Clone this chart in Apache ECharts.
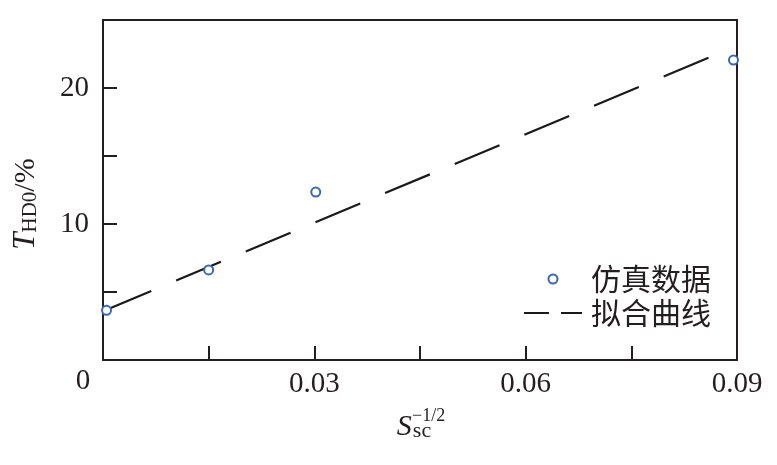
<!DOCTYPE html>
<html>
<head>
<meta charset="utf-8">
<script src="https://cdn.jsdelivr.net/npm/echarts@6/dist/echarts.min.js"></script>
<style>
html,body{margin:0;padding:0;background:#fff;}
#chart{width:777px;height:465px;}
</style>
</head>
<body>
<div id="chart"></div>
<script>
// Data
const simX = [0.0005, 0.015, 0.0302, 0.0895];
const simY = [3.65, 6.62, 12.35, 22.05];
const fitX = [0.0005, 0.0865];
const fitY = [3.70, 22.34];
const xTickLabels = ['0', '0.03', '0.06', '0.09'];
const yTickLabels = ['10', '20'];
const seriesNames = ['仿真数据', '拟合曲线'];

const serif = '"Liberation Serif", "Times New Roman", serif';
const cjk = '"Noto Sans CJK SC", sans-serif';
const axisColor = '#231f20';
const blue = '#3a68b2';

const chart = echarts.init(document.getElementById('chart'), null, {renderer: 'canvas'});

function fmtX(v) {
  const s = String(Math.round(v * 1000) / 1000);
  if (s === '0') return '{o|0}';
  return xTickLabels.indexOf(s) >= 0 ? s : '';
}
function fmtY(v) {
  const s = String(Math.round(v));
  return yTickLabels.indexOf(s) >= 0 ? s : '';
}

const option = {
  animation: false,
  backgroundColor: '#fff',
  grid: {left: 103, right: 40, top: 20, bottom: 105, containLabel: false},
  xAxis: [{
    type: 'value', position: 'bottom', min: 0, max: 0.09, interval: 0.015,
    axisLine: {show: true, onZero: false, lineStyle: {color: axisColor, width: 2}},
    axisTick: {show: true, inside: true, length: 14, lineStyle: {color: axisColor, width: 2}},
    splitLine: {show: false},
    axisLabel: {
      show: true, margin: 10, color: '#231f20', fontFamily: serif, fontSize: 29,
      formatter: fmtX,
      rich: {o: {fontFamily: serif, fontSize: 29, color: '#231f20', lineHeight: 22, padding: [0, 40, 0, 0]}}
    },
    name: '{s|S}{sub|sc}',
    nameLocation: 'middle', nameGap: 47,
    nameTextStyle: {
      padding: [0, 12, 0, 0],
      rich: {
        s: {fontFamily: serif, fontStyle: 'italic', fontSize: 30, lineHeight: 30, verticalAlign: 'top', color: '#231f20'},
        sub: {fontFamily: serif, fontSize: 22, lineHeight: 22, padding: [16, 0, 0, 1], verticalAlign: 'bottom', color: '#231f20'}
      }
    }
  }, {
    type: 'value', position: 'top', min: 0, max: 0.09,
    axisLine: {show: true, onZero: false, lineStyle: {color: axisColor, width: 2}},
    axisTick: {show: false}, axisLabel: {show: false}, splitLine: {show: false}
  }],
  yAxis: [{
    type: 'value', position: 'left', min: 0, max: 25, interval: 5,
    axisLine: {show: true, onZero: false, lineStyle: {color: axisColor, width: 2}},
    axisTick: {show: true, inside: true, length: 14, lineStyle: {color: axisColor, width: 2}},
    splitLine: {show: false},
    axisLabel: {show: true, margin: 14, color: '#231f20', fontFamily: serif, fontSize: 29, formatter: fmtY},
    name: '{ti|T}{sub|HD0}{t|/%}',
    nameLocation: 'middle', nameGap: 62, nameRotate: 90,
    nameTextStyle: {
      padding: [0, 28, 0, 0],
      rich: {
        ti: {fontFamily: serif, fontStyle: 'italic', fontSize: 31, lineHeight: 30, verticalAlign: 'bottom', color: '#231f20'},
        t: {fontFamily: serif, fontSize: 30, lineHeight: 30, verticalAlign: 'bottom', color: '#231f20'},
        sub: {fontFamily: serif, fontSize: 21, lineHeight: 21, verticalAlign: 'bottom', color: '#231f20'}
      }
    }
  }, {
    type: 'value', position: 'right', min: 0, max: 25,
    axisLine: {show: true, onZero: false, lineStyle: {color: axisColor, width: 2}},
    axisTick: {show: false}, axisLabel: {show: false}, splitLine: {show: false}
  }],
  legend: {
    orient: 'vertical', left: 518, top: 258,
    itemWidth: 58, itemHeight: 9, itemGap: 2,
    textStyle: {fontFamily: cjk, fontSize: 30, lineHeight: 32, color: '#231f20', padding: [0, 0, 0, 4]},
    data: [
      {name: seriesNames[0]},
      {name: seriesNames[1], lineStyle: {type: [25, 12], width: 2, color: '#1a1a1a'},
       itemStyle: {color: 'rgba(0,0,0,0)', borderWidth: 0, opacity: 0}}
    ]
  },
  series: [{
    name: seriesNames[1], type: 'line',
    data: fitX.map((x, i) => [x, fitY[i]]),
    symbol: 'none', showSymbol: false,
    lineStyle: {color: '#1a1a1a', width: 2.2, type: [48.5, 27]},
    z: 2
  }, {
    name: seriesNames[0], type: 'scatter',
    data: simX.map((x, i) => [x, simY[i]]),
    symbol: 'circle', symbolSize: 9,
    itemStyle: {color: '#fff', borderColor: blue, borderWidth: 2, opacity: 1},
    z: 3
  }],
  graphic: [{
    type: 'text', left: 412, top: 407, z: 10,
    style: {text: '−1/2', font: '18px "Liberation Serif", serif', fill: '#231f20'}
  }]
};
chart.setOption(option);
</script>
</body>
</html>
